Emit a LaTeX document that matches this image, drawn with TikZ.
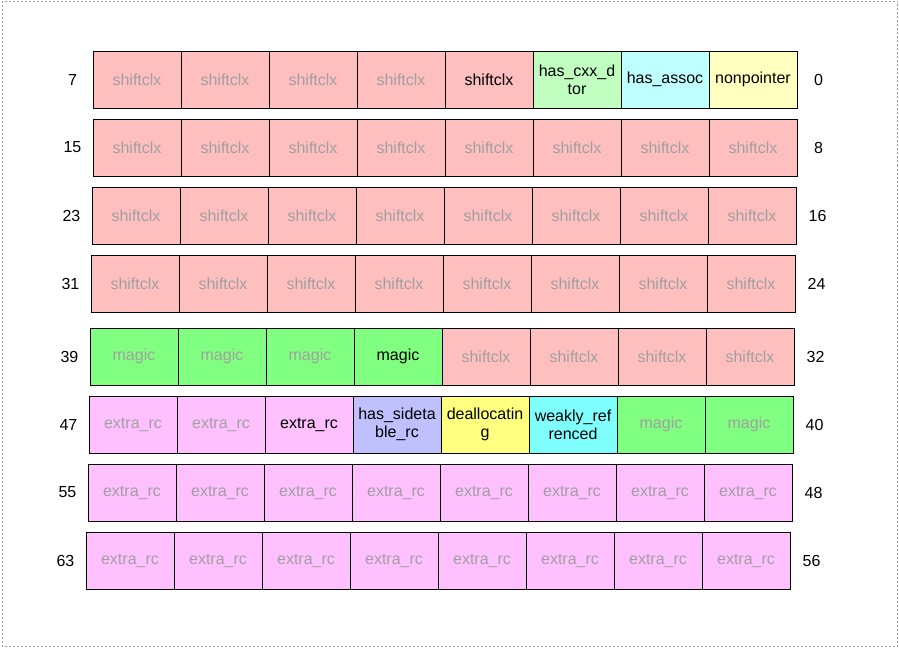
\documentclass[tikz,border=0pt]{standalone}
\usepackage{fontspec}
\setmainfont{Liberation Sans}

\definecolor{shiftfill}{HTML}{FFBFBF}
\definecolor{magicfill}{HTML}{80FF80}
\definecolor{extrafill}{HTML}{FFC0FF}
\definecolor{cxxfill}{HTML}{C0FFC0}
\definecolor{assocfill}{HTML}{C0FFFF}
\definecolor{nonptrfill}{HTML}{FFFFC0}
\definecolor{sidefill}{HTML}{C0C0FF}
\definecolor{deallocfill}{HTML}{FFFF80}
\definecolor{weakfill}{HTML}{80FFFF}
\definecolor{dimtext}{HTML}{A0A0A0}

\tikzset{
	bitcell/.style={draw=black, line width=0.75pt, minimum width=66pt, minimum height=42.75pt,
		inner sep=0pt, anchor=north west, align=center, font=\fontsize{12}{13.5}\selectfont},
	shiftg/.style={bitcell, fill=shiftfill, text=dimtext},
	shiftk/.style={bitcell, fill=shiftfill},
	magicg/.style={bitcell, fill=magicfill, text=dimtext},
	magick/.style={bitcell, fill=magicfill},
	extrag/.style={bitcell, fill=extrafill, text=dimtext},
	extrak/.style={bitcell, fill=extrafill},
	cxxdtor/.style={bitcell, fill=cxxfill},
	assoc/.style={bitcell, fill=assocfill},
	nonptr/.style={bitcell, fill=nonptrfill},
	sidetable/.style={bitcell, fill=sidefill},
	dealloc/.style={bitcell, fill=deallocfill},
	weakref/.style={bitcell, fill=weakfill},
	bitno/.style={font=\fontsize{12}{14}\selectfont, inner sep=0pt}
}

\begin{document}
\begin{tikzpicture}[x=0.75pt,y=-0.75pt]
	\useasboundingbox (0,0) rectangle (899,647);
	
	% Rahmen
	\draw[gray!80, line width=0.75pt, dash pattern=on 1.5pt off 1.5pt] (2,1) rectangle (897.5,646);
	
	% Bits 7 - 0
	\foreach \c/\sty/\txt in {0/shiftg/shiftclx,1/shiftg/shiftclx,2/shiftg/shiftclx,3/shiftg/shiftclx,
		4/shiftk/shiftclx,5/cxxdtor/{has\_cxx\_d\\tor},6/assoc/has\_assoc,7/nonptr/nonpointer}
	{
		\pgfmathtruncatemacro\bit{7-\c}
		\node[\sty] (b\bit) at (92.5+88*\c,50.5) {\txt};
	}
	
	% Bits 15 - 8
	\foreach \c in {0,...,7}
	{
		\pgfmathtruncatemacro\bit{15-\c}
		\node[shiftg] (b\bit) at (92.5+88*\c,118.5) {shiftclx};
	}
	
	% Bits 23 - 16
	\foreach \c in {0,...,7}
	{
		\pgfmathtruncatemacro\bit{23-\c}
		\node[shiftg] (b\bit) at (91.5+88*\c,186.5) {shiftclx};
	}
	
	% Bits 31 - 24
	\foreach \c in {0,...,7}
	{
		\pgfmathtruncatemacro\bit{31-\c}
		\node[shiftg] (b\bit) at (90.5+88*\c,254.5) {shiftclx};
	}
	
	% Bits 39 - 32
	\foreach \c/\sty/\txt in {0/magicg/magic,1/magicg/magic,2/magicg/magic,3/magick/magic,
		4/shiftg/shiftclx,5/shiftg/shiftclx,6/shiftg/shiftclx,7/shiftg/shiftclx}
	{
		\pgfmathtruncatemacro\bit{39-\c}
		\node[\sty] (b\bit) at (89.5+88*\c,327.5) {\txt};
	}
	
	% Bits 47 - 40
	\foreach \c/\sty/\txt in {0/extrag/extra\_rc,1/extrag/extra\_rc,2/extrak/extra\_rc,
		3/sidetable/{has\_sideta\\ble\_rc},4/dealloc/{deallocatin\\g},5/weakref/{weakly\_ref\\renced},
		6/magicg/magic,7/magicg/magic}
	{
		\pgfmathtruncatemacro\bit{47-\c}
		\node[\sty] (b\bit) at (88.5+88*\c,395.5) {\txt};
	}
	
	% Bits 55 - 48
	\foreach \c in {0,...,7}
	{
		\pgfmathtruncatemacro\bit{55-\c}
		\node[extrag] (b\bit) at (87.5+88*\c,463.5) {extra\_rc};
	}
	
	% Bits 63 - 56
	\foreach \c in {0,...,7}
	{
		\pgfmathtruncatemacro\bit{63-\c}
		\node[extrag] (b\bit) at (85.5+88*\c,531.5) {extra\_rc};
	}
	
	% Bitnummern
	\foreach \hi/\lo in {7/0,15/8,23/16,31/24,39/32,47/40,55/48,63/56}
	{
		\node[bitno] (n\hi) at ([xshift=-15pt]b\hi.west) {\hi};
		\node[bitno] (n\lo) at ([xshift=15.75pt]b\lo.east) {\lo};
	}
\end{tikzpicture}
\end{document}
